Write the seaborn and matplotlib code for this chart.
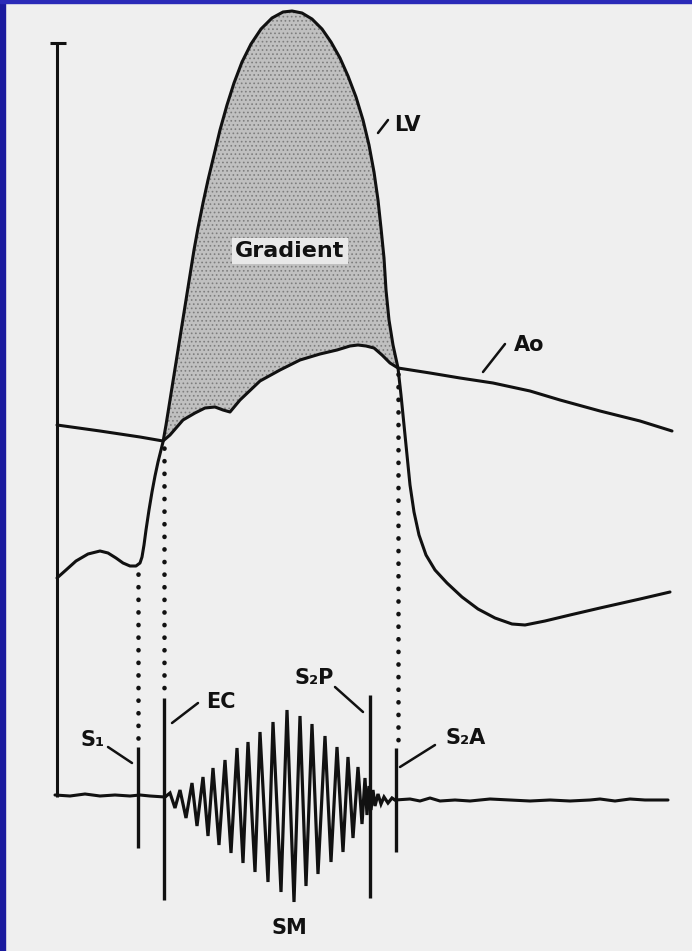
import matplotlib
matplotlib.use("Agg")
import matplotlib.pyplot as plt
import seaborn as sns

sns.set_theme(style="white")
plt.rcParams["font.family"] = ["DejaVu Sans"]
plt.rcParams["hatch.linewidth"] = 0.7
plt.rcParams["hatch.color"] = "#7e7e7e"

# Left ventricular pressure trace (x, y in drawing units, y grows downward)
lv_x = [57, 66, 76, 88, 100, 108, 116, 123, 130, 136, 140, 142, 144, 146, 149, 152, 155, 158, 161, 163,
        166, 170, 174, 178, 182, 186, 190, 194, 198, 203, 208, 214, 220, 227, 234, 242, 251, 261, 272, 283,
        292, 302, 312, 322, 331, 340, 348, 356, 363, 369, 374, 378, 381, 384, 386, 389, 393, 398,
        401, 404, 407, 410, 414, 419, 426, 435, 447, 462, 478, 495, 512, 525, 545, 570, 600, 640, 670]
lv_y = [578, 570, 561, 554, 551, 553, 558, 563, 566, 566, 563, 557, 545, 530, 510, 492, 476, 462, 450, 442,
        425, 400, 375, 350, 325, 300, 275, 250, 228, 203, 180, 155, 130, 105, 83, 62, 44, 29, 18, 12,
        11, 13, 19, 29, 42, 58, 76, 97, 120, 145, 172, 200, 228, 258, 290, 320, 345, 368,
        395, 425, 455, 485, 512, 535, 555, 570, 583, 597, 609, 618, 624, 625, 621, 615, 608, 599, 592]

# Aortic pressure trace
ao_x = [57, 100, 140, 163, 170, 183, 195, 205, 215, 223, 230, 240, 260, 280, 300,
        320, 337, 350, 358, 366, 374, 382, 390, 398, 430, 460, 493, 530, 560, 600, 640, 672]
ao_y = [425, 431, 437, 441, 435, 420, 413, 408, 407, 410, 412, 400, 381, 370, 360,
        354, 350, 346, 345, 346, 348, 355, 363, 368, 373, 378, 383, 391, 400, 411, 421, 431]

# Phonocardiogram: baseline before and after the systolic murmur
base_left_x = [55, 70, 85, 100, 115, 130, 140, 150, 165]
base_left_y = [795, 796, 794, 796, 795, 796, 795, 796, 797]
base_right_x = [395, 410, 420, 430, 440, 455, 470, 490, 510, 530, 550, 570, 590, 600, 615, 630, 645, 668]
base_right_y = [800, 799, 801, 798, 801, 800, 801, 799, 800, 801, 800, 801, 800, 799, 801, 799, 800, 800]

# Systolic murmur (SM) excursions
murmur_x = [165, 170, 175, 180, 186, 192, 197, 203, 208, 213, 219, 225, 231, 237, 243, 248,
            255, 260, 268, 273, 281, 287, 294, 300, 306, 312, 318, 325, 331, 337, 343, 348,
            353, 358, 362, 365, 367, 369, 371, 373, 375, 378, 381, 384, 388, 392, 395]
murmur_y = [797, 793, 808, 790, 818, 783, 826, 777, 836, 768, 845, 760, 853, 748, 863, 742,
            872, 732, 882, 722, 892, 710, 902, 716, 886, 724, 874, 736, 862, 747, 852, 757,
            838, 767, 824, 778, 815, 786, 810, 790, 806, 794, 804, 797, 803, 798, 800]

# Heart sounds and ejection click: position and vertical extent
sound_labels = ["S₁", "EC", "S₂P", "S₂A"]
sound_x = [138, 164, 370, 396]
sound_top = [747, 698, 695, 748]
sound_bottom = [848, 900, 898, 852]

# Dotted timing lines linking pressure events to sounds
dot_x = [138, 164, 398]
dot_top = [574, 448, 374]
dot_bottom = [744, 695, 745]

# Text labels and leader lines
label_text = ["LV", "Ao", "S₁", "EC", "S₂P", "S₂A", "SM"]
label_x = [407, 529, 93, 221, 314, 466, 289]
label_y = [125, 345, 740, 702, 678, 738, 928]
leader_x0 = [378, 483, 108, 172, 335, 400]
leader_y0 = [133, 372, 747, 723, 687, 767]
leader_x1 = [388, 505, 132, 198, 363, 435]
leader_y1 = [120, 344, 763, 703, 712, 745]

fig = plt.figure(figsize=(6.92, 9.51), dpi=100)
fig.patch.set_facecolor("#efefef")
ax = fig.add_axes([0, 0, 1, 1])
ax.set_facecolor("#efefef")
ax.set_xlim(0, 692)
ax.set_ylim(951, 0)
ax.axis("off")

ink = "#111111"
lw = 2.2
line_kw = dict(color=ink, linewidth=lw, sort=False, estimator=None,
               solid_joinstyle="round", solid_capstyle="round", legend=False)

# Shaded pressure gradient between LV and Ao during ejection
i0, i1 = lv_x.index(163), lv_x.index(398)
j0, j1 = ao_x.index(163), ao_x.index(398)
poly_x = lv_x[i0:i1 + 1] + ao_x[j0:j1 + 1][::-1]
poly_y = lv_y[i0:i1 + 1] + ao_y[j0:j1 + 1][::-1]
ax.fill(poly_x, poly_y, facecolor="#c0c0c0", edgecolor="none", zorder=1)
ax.fill(poly_x, poly_y, facecolor="none", edgecolor="#7e7e7e", linewidth=0,
        hatch="....", zorder=1)

sns.lineplot(x=lv_x, y=lv_y, ax=ax, **line_kw)
sns.lineplot(x=ao_x, y=ao_y, ax=ax, **line_kw)
sns.lineplot(x=base_left_x, y=base_left_y, ax=ax, **line_kw)
sns.lineplot(x=base_right_x, y=base_right_y, ax=ax, **line_kw)
sns.lineplot(x=murmur_x, y=murmur_y, ax=ax, color=ink, linewidth=2.3, sort=False,
             estimator=None, solid_joinstyle="miter", legend=False)

# Pressure axis with end cap
ax.plot([57, 57], [43, 797], color=ink, linewidth=lw, solid_capstyle="butt")
ax.plot([50, 66], [43, 43], color=ink, linewidth=lw, solid_capstyle="butt")

ax.vlines(sound_x, sound_top, sound_bottom, color=ink, linewidth=2.4)
for x, t, b in zip(dot_x, dot_top, dot_bottom):
    ax.plot([x, x], [t, b], color=ink, linewidth=3.3,
            linestyle=(0, (0.05, 2.7)), dash_capstyle="round")

for x0, y0, x1, y1 in zip(leader_x0, leader_y0, leader_x1, leader_y1):
    ax.plot([x0, x1], [y0, y1], color=ink, linewidth=1.8, solid_capstyle="round")

for t, x, y in zip(label_text, label_x, label_y):
    ax.text(x, y, t, ha="center", va="center", fontsize=15, fontweight="bold",
            color=ink)

ax.text(290, 251, "Gradient", ha="center", va="center", fontsize=16,
        fontweight="bold", color=ink,
        bbox=dict(boxstyle="square,pad=0.15", facecolor="#e8e8e8", edgecolor="none"))

# Blue frame strips along the top and left edges
ax.axvspan(0, 5, color="#1a1a9e", zorder=5)
ax.axhspan(0, 3, color="#2a2ab8", zorder=5)

fig.savefig("out.png", dpi=100, facecolor=fig.get_facecolor())
